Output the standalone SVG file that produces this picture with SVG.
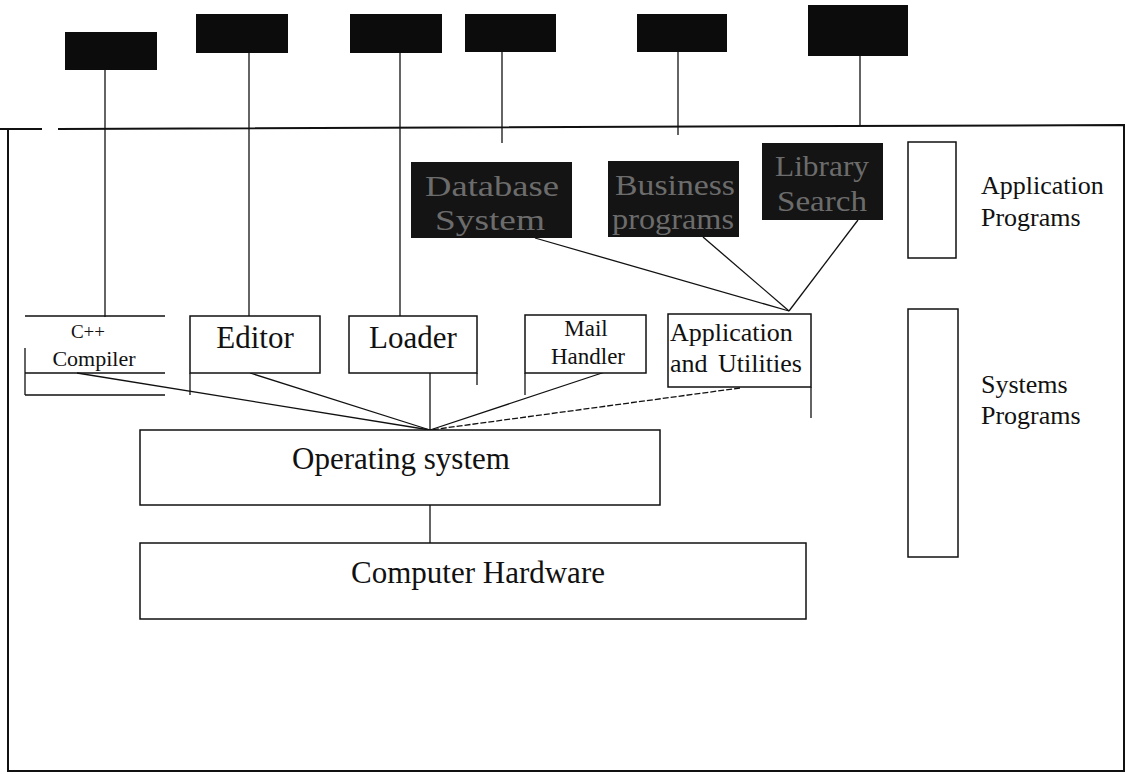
<svg xmlns="http://www.w3.org/2000/svg" width="1127" height="774" viewBox="0 0 1127 774">
<style>
.ln{stroke:#111;stroke-width:1.3;fill:none}
.frame{stroke:#111;stroke-width:2;fill:none}
.bx{fill:#fff;stroke:#111;stroke-width:1.5}
.blk{fill:#0c0c0c}
.dk{fill:#141414}
.t{font-family:"Liberation Serif","Times New Roman",serif;fill:#111;text-anchor:middle}
.dt{font-family:"Liberation Serif","Times New Roman",serif;fill:#6c6c6c;text-anchor:middle;font-size:30px}
.side{font-family:"Liberation Serif","Times New Roman",serif;fill:#111;font-size:26px}
</style>
<rect width="1127" height="774" fill="#fff"/>
<g id="frame">
<path class="frame" d="M0 129 H42 M58 129 L1124 125 V771 H8 V129"/>
</g>
<g id="top-boxes">
<rect class="blk" x="65" y="32" width="92" height="38"/>
<rect class="blk" x="196" y="14" width="92" height="39"/>
<rect class="blk" x="350" y="14" width="92" height="39"/>
<rect class="blk" x="465" y="14" width="91" height="38"/>
<rect class="blk" x="637" y="14" width="90" height="38"/>
<rect class="blk" x="808" y="5" width="100" height="51"/>
</g>
<g id="connectors">
<line class="ln" x1="105" y1="70" x2="105" y2="317"/>
<line class="ln" x1="249" y1="53" x2="249" y2="316"/>
<line class="ln" x1="400" y1="53" x2="400" y2="316"/>
<line class="ln" x1="502" y1="52" x2="502" y2="143"/>
<line class="ln" x1="678" y1="52" x2="678" y2="135"/>
<line class="ln" x1="860" y1="56" x2="860" y2="126"/>
<line class="ln" x1="535" y1="238" x2="789" y2="311"/>
<line class="ln" x1="703" y1="237" x2="789" y2="311"/>
<line class="ln" x1="858" y1="220" x2="789" y2="311"/>
<line class="ln" x1="77" y1="373" x2="430" y2="430"/>
<line class="ln" x1="250" y1="373" x2="430" y2="430"/>
<line class="ln" x1="430" y1="373" x2="430" y2="430"/>
<line class="ln" x1="605" y1="372" x2="430" y2="430"/>
<line class="ln" x1="740" y1="388" x2="430" y2="430" stroke-dasharray="6 2"/>
<line class="ln" x1="430" y1="505" x2="430" y2="543"/>
</g>
<g id="database-system">
<rect class="dk" x="411" y="162" width="161" height="76"/>
<text class="dt" x="492" y="196" textLength="134" lengthAdjust="spacingAndGlyphs">Database</text>
<text class="dt" x="490" y="230" textLength="110" lengthAdjust="spacingAndGlyphs">System</text>
</g>
<g id="business-programs">
<rect class="dk" x="608" y="161" width="131" height="76"/>
<text class="dt" x="675" y="195" textLength="120" lengthAdjust="spacingAndGlyphs">Business</text>
<text class="dt" x="673" y="229" textLength="122" lengthAdjust="spacingAndGlyphs">programs</text>
</g>
<g id="library-search">
<rect class="dk" x="762" y="143" width="121" height="77"/>
<text class="dt" x="822" y="176" textLength="94" lengthAdjust="spacingAndGlyphs">Library</text>
<text class="dt" x="822" y="211" textLength="90" lengthAdjust="spacingAndGlyphs">Search</text>
</g>
<g id="cpp-compiler">
<path class="ln" stroke-width="1.5" d="M25 316 H165 M25 373 H165 M25 395 H165 M25 348 V395"/>
<text class="t" x="88" y="338" font-size="19">C++</text>
<text class="t" x="94" y="366" font-size="22">Compiler</text>
</g>
<g id="editor">
<rect class="bx" x="190" y="316" width="130" height="57"/>
<line class="ln" stroke-width="1.5" x1="190" y1="373" x2="190" y2="395"/>
<text class="t" x="255" y="348" font-size="31">Editor</text>
</g>
<g id="loader">
<rect class="bx" x="349" y="316" width="128" height="57"/>
<line class="ln" stroke-width="1.5" x1="477" y1="373" x2="477" y2="385"/>
<text class="t" x="413" y="348" font-size="31">Loader</text>
</g>
<g id="mail-handler">
<rect class="bx" x="525" y="315" width="121" height="58"/>
<line class="ln" stroke-width="1.5" x1="525" y1="373" x2="525" y2="395"/>
<text class="t" x="586" y="336" font-size="23">Mail</text>
<text class="t" x="588" y="364" font-size="23">Handler</text>
</g>
<g id="application-utilities">
<rect class="bx" x="668" y="314" width="143" height="73"/>
<line class="ln" stroke-width="1.5" x1="811" y1="387" x2="811" y2="418"/>
<text x="670" y="341" font-family="Liberation Serif, serif" font-size="26" fill="#111">Application</text>
<text x="670" y="372" font-family="Liberation Serif, serif" font-size="26" fill="#111" word-spacing="4">and Utilities</text>
</g>
<g id="operating-system">
<rect class="bx" x="140" y="430" width="520" height="75"/>
<text class="t" x="401" y="469" font-size="31">Operating system</text>
</g>
<g id="computer-hardware">
<rect class="bx" x="140" y="543" width="666" height="76"/>
<text class="t" x="478" y="583" font-size="31">Computer Hardware</text>
</g>
<g id="application-programs-legend">
<rect class="bx" x="908" y="142" width="48" height="116"/>
<text class="side" x="981" y="194">Application</text>
<text class="side" x="981" y="226">Programs</text>
</g>
<g id="systems-programs-legend">
<rect class="bx" x="908" y="309" width="50" height="248"/>
<text class="side" x="981" y="393">Systems</text>
<text class="side" x="981" y="424">Programs</text>
</g>
</svg>
